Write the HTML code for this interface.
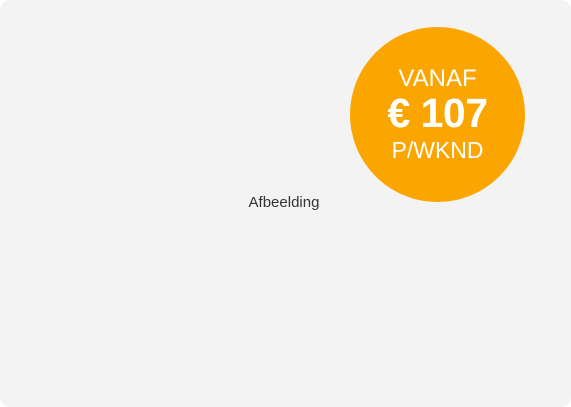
<!DOCTYPE html>
<html><head><meta charset="utf-8"><style>
html,body{margin:0;padding:0;background:#fff;}
#card{position:relative;width:571px;height:407px;background:#f3f3f3;border-radius:10px;overflow:hidden;font-family:"Liberation Sans",sans-serif;}
#label{position:absolute;left:0;width:568px;top:194px;text-align:center;font-size:15px;color:#333;}
#badge{position:absolute;left:350px;top:27px;width:175px;height:175px;border-radius:50%;background:#faa500;color:#fff;text-align:center;}
.t{position:absolute;left:0;width:175px;white-space:nowrap;}
</style></head><body>
<div id="card">
<div id="label">Afbeelding</div>
<div id="badge">
<div class="t" style="top:38px;font-size:24px;">VANAF</div>
<div class="t" style="top:63px;font-size:41px;font-weight:bold;letter-spacing:-0.5px;">€ 107</div>
<div class="t" style="top:110px;font-size:23px;">P/WKND</div>
</div>
</div>
</body></html>
